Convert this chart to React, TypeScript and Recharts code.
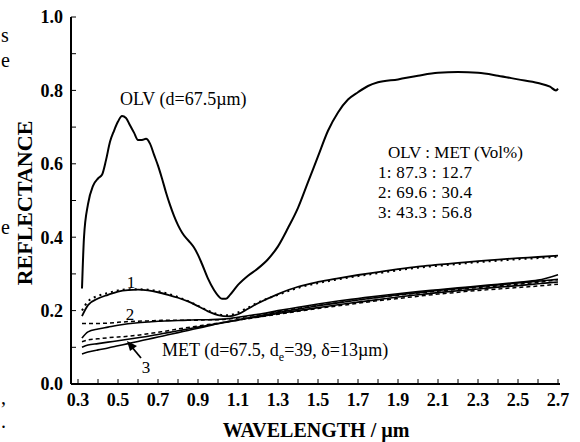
import { LineChart, Line, XAxis, YAxis } from "recharts";

// wavelength (µm) grid for the olivine spectrum
const olvWl = [
  0.32, 0.33, 0.35, 0.375, 0.4, 0.42, 0.44, 0.46, 0.48, 0.5, 0.52, 0.54, 0.56,
  0.58, 0.6, 0.62, 0.64, 0.66, 0.68, 0.7, 0.72, 0.74, 0.76, 0.78, 0.8, 0.82,
  0.84, 0.86, 0.88, 0.9, 0.92, 0.95, 0.98, 1.0, 1.02, 1.04, 1.06, 1.1, 1.15,
  1.2, 1.25, 1.3, 1.35, 1.4, 1.45, 1.5, 1.55, 1.6, 1.65, 1.7, 1.75, 1.8, 1.9,
  2.0, 2.1, 2.2, 2.3, 2.4, 2.5, 2.6, 2.66, 2.69, 2.7,
];
const olv = [
  0.26, 0.4, 0.49, 0.54, 0.56, 0.57, 0.61, 0.66, 0.69, 0.715, 0.73, 0.725,
  0.705, 0.685, 0.665, 0.665, 0.668, 0.655, 0.625, 0.595, 0.56, 0.522, 0.488,
  0.458, 0.433, 0.413, 0.398, 0.386, 0.372, 0.352, 0.327, 0.287, 0.256, 0.241,
  0.232, 0.232, 0.243, 0.27, 0.295, 0.315, 0.34, 0.375, 0.425, 0.48, 0.55,
  0.62, 0.69, 0.74, 0.775, 0.795, 0.812, 0.822, 0.83, 0.84, 0.848, 0.85,
  0.848, 0.84, 0.83, 0.82, 0.81, 0.8, 0.805,
];

// wavelength grid for the mixtures and metal
const mixWl = [
  0.32, 0.35, 0.4, 0.45, 0.5, 0.55, 0.6, 0.65, 0.7, 0.75, 0.8, 0.85, 0.9, 0.95,
  1.0, 1.05, 1.1, 1.15, 1.2, 1.3, 1.4, 1.5, 1.6, 1.7, 1.8, 1.9, 2.0, 2.1, 2.2,
  2.3, 2.4, 2.5, 2.6, 2.7,
];
// measured (solid) and calculated (dashed) mixtures
const meas1 = [
  0.185, 0.215, 0.233, 0.243, 0.252, 0.256, 0.257, 0.255, 0.25, 0.243, 0.235,
  0.225, 0.212, 0.198, 0.188, 0.184, 0.19, 0.205, 0.22, 0.245, 0.265, 0.278,
  0.288, 0.297, 0.305, 0.313, 0.32, 0.325, 0.33, 0.335, 0.339, 0.343, 0.346,
  0.35,
];
const calc1 = [
  0.2, 0.225, 0.24, 0.248, 0.255, 0.258, 0.258, 0.257, 0.253, 0.246, 0.237,
  0.226, 0.213, 0.2, 0.19, 0.187, 0.195, 0.208, 0.222, 0.243, 0.262, 0.275,
  0.285, 0.294, 0.302, 0.31, 0.317, 0.322, 0.327, 0.332, 0.336, 0.34, 0.343,
  0.347,
];
const meas2 = [
  0.125, 0.142, 0.15, 0.155, 0.16, 0.164, 0.167, 0.169, 0.171, 0.172, 0.173,
  0.174, 0.175, 0.175, 0.176, 0.178, 0.182, 0.186, 0.19, 0.2, 0.209, 0.218,
  0.226, 0.233, 0.24, 0.246, 0.252, 0.257, 0.262, 0.267, 0.272, 0.277, 0.283,
  0.298,
];
const calc2 = [
  0.165, 0.165, 0.165, 0.166, 0.168, 0.17, 0.171, 0.172, 0.173, 0.174, 0.174,
  0.174, 0.174, 0.175, 0.175, 0.177, 0.18, 0.184, 0.188, 0.197, 0.206, 0.214,
  0.222, 0.229, 0.236, 0.242, 0.248, 0.253, 0.258, 0.263, 0.267, 0.272, 0.277,
  0.284,
];
const meas3 = [
  0.1, 0.106, 0.11, 0.114, 0.118, 0.122, 0.126, 0.13, 0.135, 0.14, 0.145,
  0.15, 0.155, 0.16, 0.165, 0.17, 0.175, 0.18, 0.185, 0.195, 0.204, 0.213,
  0.221, 0.229, 0.236, 0.243, 0.249, 0.255, 0.26, 0.265, 0.27, 0.275, 0.28,
  0.285,
];
const calc3 = [
  0.115, 0.12, 0.123, 0.126, 0.128, 0.13, 0.133, 0.137, 0.141, 0.145, 0.15,
  0.154, 0.158, 0.162, 0.166, 0.17, 0.174, 0.178, 0.182, 0.19, 0.198, 0.206,
  0.213, 0.22, 0.227, 0.233, 0.239, 0.245, 0.25, 0.255, 0.259, 0.263, 0.267,
  0.272,
];
const met = [
  0.082, 0.087, 0.093, 0.098, 0.104, 0.11, 0.116, 0.122, 0.128, 0.134, 0.14,
  0.146, 0.152, 0.158, 0.164, 0.169, 0.174, 0.179, 0.183, 0.192, 0.2, 0.208,
  0.216, 0.223, 0.23, 0.237, 0.243, 0.249, 0.254, 0.259, 0.264, 0.268, 0.273,
  0.278,
];

const xTicks = [
  0.3, 0.4, 0.5, 0.6, 0.7, 0.8, 0.9, 1.0, 1.1, 1.2, 1.3, 1.4, 1.5, 1.6, 1.7,
  1.8, 1.9, 2.0, 2.1, 2.2, 2.3, 2.4, 2.5, 2.6, 2.7,
];
const yTicks = [0, 0.1, 0.2, 0.3, 0.4, 0.5, 0.6, 0.7, 0.8, 0.9, 1.0];
const ratios = ["1: 87.3 : 12.7", "2: 69.6 : 30.4", "3: 43.3 : 56.8"];

const FONT = "'Liberation Serif', 'Times New Roman', serif";

const toRows = (xs: number[], ys: number[]) =>
  xs.map((x, i) => ({ x, y: ys[i] }));

const tickStyle = { fontFamily: FONT, fontSize: 18, fontWeight: 700, fill: "#000" };

const Annotations = () => (
  <g fontFamily={FONT} fill="#000">
    {/* stray letters from the neighbouring text column */}
    <text x={1} y={42} fontSize={20}>s</text>
    <text x={1} y={67} fontSize={20}>e</text>
    <text x={1} y={234} fontSize={20}>e</text>
    <text x={1} y={404} fontSize={20}>,</text>
    <text x={1} y={428} fontSize={20}>.</text>

    <text x={24} y={203} fontSize={22} fontWeight={700} textAnchor="middle"
      transform="rotate(-90 24 203)" dominantBaseline="central">
      REFLECTANCE
    </text>
    <text x={316} y={437} fontSize={20} fontWeight={700} textAnchor="middle">
      WAVELENGTH / µm
    </text>

    <text x={120} y={105} fontSize={18}>OLV (d=67.5µm)</text>
    <text x={388} y={158} fontSize={17}>OLV : MET (Vol%)</text>
    {ratios.map((r, i) => (
      <text key={r} x={378} y={178 + i * 20} fontSize={17} letterSpacing={0.3}>
        {r}
      </text>
    ))}
    <text x={131} y={288} fontSize={17} textAnchor="middle">1</text>
    <text x={130} y={320} fontSize={17} textAnchor="middle">2</text>
    <text x={146} y={373} fontSize={17} textAnchor="middle">3</text>
    <line x1={141} y1={358} x2={131} y2={346} stroke="#000" strokeWidth={1.8} />
    <polygon points="127,341 137,346 130,351" fill="#000" />
    <text x={162} y={356} fontSize={18}>
      MET (d=67.5, d
      <tspan fontSize={12} dy={5}>e</tspan>
      <tspan dy={-5}>=39, δ=13µm)</tspan>
    </text>
  </g>
);

export default function App() {
  return (
    <div style={{ position: "absolute", left: 0, top: 0, background: "#fff" }}>
      <LineChart
        width={580}
        height={442}
        margin={{ top: 17, right: 20, bottom: 0, left: 0 }}
      >
        <XAxis
          xAxisId="b"
          dataKey="x"
          type="number"
          domain={[0.265, 2.71]}
          ticks={xTicks}
          allowDataOverflow
          height={58}
          tickSize={-5}
          tickMargin={14}
          stroke="#000"
          axisLine={{ strokeWidth: 2 }}
          tick={tickStyle}
          tickFormatter={(v: number) =>
            Math.round(v * 10) % 2 === 1 ? v.toFixed(1) : ""
          }
        />
        <XAxis
          xAxisId="t"
          orientation="top"
          type="number"
          domain={[0.265, 2.71]}
          ticks={xTicks}
          allowDataOverflow
          height={0}
          tickSize={-5}
          stroke="#000"
          axisLine={{ strokeWidth: 1.5 }}
          tickFormatter={() => ""}
        />
        <YAxis
          yAxisId="l"
          type="number"
          domain={[0, 1]}
          ticks={yTicks}
          width={71}
          tickSize={-5}
          tickMargin={13}
          stroke="#000"
          axisLine={{ strokeWidth: 2 }}
          tick={tickStyle}
          tickFormatter={(v: number) =>
            Math.round(v * 10) % 2 === 0 ? v.toFixed(1) : ""
          }
        />
        <YAxis
          yAxisId="r"
          orientation="right"
          type="number"
          domain={[0, 1]}
          ticks={yTicks}
          width={0}
          tickSize={-5}
          stroke="#000"
          axisLine={{ strokeWidth: 2 }}
          tickFormatter={() => ""}
        />
        <Line xAxisId="b" yAxisId="l" data={toRows(olvWl, olv)} dataKey="y"
          type="monotone" stroke="#000" strokeWidth={2} dot={false} isAnimationActive={false} />
        <Line xAxisId="b" yAxisId="l" data={toRows(mixWl, meas1)} dataKey="y"
          type="monotone" stroke="#000" strokeWidth={1.8} dot={false} isAnimationActive={false} />
        <Line xAxisId="b" yAxisId="l" data={toRows(mixWl, calc1)} dataKey="y"
          type="monotone" stroke="#000" strokeWidth={2} strokeDasharray="2 4"
          dot={false} isAnimationActive={false} />
        <Line xAxisId="b" yAxisId="l" data={toRows(mixWl, meas2)} dataKey="y"
          type="monotone" stroke="#000" strokeWidth={1.6} dot={false} isAnimationActive={false} />
        <Line xAxisId="b" yAxisId="l" data={toRows(mixWl, calc2)} dataKey="y"
          type="monotone" stroke="#000" strokeWidth={1.5} strokeDasharray="4 3"
          dot={false} isAnimationActive={false} />
        <Line xAxisId="b" yAxisId="l" data={toRows(mixWl, meas3)} dataKey="y"
          type="monotone" stroke="#000" strokeWidth={1.6} dot={false} isAnimationActive={false} />
        <Line xAxisId="b" yAxisId="l" data={toRows(mixWl, calc3)} dataKey="y"
          type="monotone" stroke="#000" strokeWidth={1.5} strokeDasharray="4 3"
          dot={false} isAnimationActive={false} />
        <Line xAxisId="b" yAxisId="l" data={toRows(mixWl, met)} dataKey="y"
          type="monotone" stroke="#000" strokeWidth={1.6} dot={false} isAnimationActive={false} />
        <Annotations />
      </LineChart>
    </div>
  );
}
